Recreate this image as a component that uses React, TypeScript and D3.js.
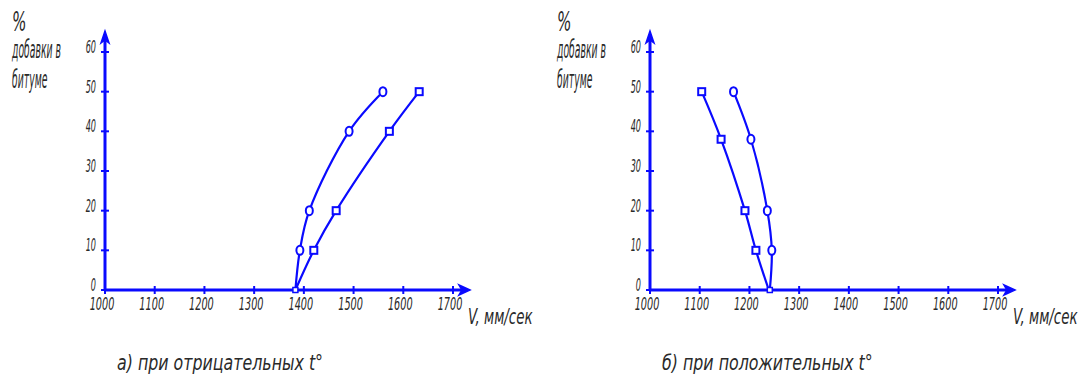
import * as d3 from "d3";

// chart a) при отрицательных t°
const aLevels = [0, 10, 20, 40, 50];
const aCircle = [1383, 1392, 1411, 1491, 1559];
const aSquare = [1383, 1420, 1465, 1572, 1632];

// chart б) при положительных t°
const bLevels = [0, 10, 20, 38, 50];
const bCircle = [1241, 1245, 1236, 1203, 1168];
const bSquare = [1239, 1213, 1191, 1143, 1104];

const xTicks = [1000, 1100, 1200, 1300, 1400, 1500, 1600, 1700];
const yTicks = [0, 10, 20, 30, 40, 50, 60];

const BLUE = "#0a0aff";
const INK = "#2a2a2a";
const FONT = "'DejaVu Sans Condensed', 'DejaVu Sans', sans-serif";

type TProps = { x: number; y: number; text: string; size: number; sx: number; anchor?: string };

function T({ x, y, text, size, sx, anchor = "start" }: TProps) {
  return (
    <text
      transform={`translate(${x},${y}) scale(${sx},1)`}
      fontFamily={FONT}
      fontStyle="italic"
      fontSize={size}
      fill={INK}
      textAnchor={anchor}
    >
      {text}
    </text>
  );
}

type PanelProps = {
  ox: number;
  levels: number[];
  circle: number[];
  square: number[];
  caption: string;
};

function Panel({ ox, levels, circle, square, caption }: PanelProps) {
  const x = d3.scaleLinear().domain([1000, 1700]).range([ox, ox + 348]);
  const y = d3.scaleLinear().domain([0, 60]).range([290, 52]);
  const line = d3
    .line<[number, number]>()
    .x((d) => x(d[0]))
    .y((d) => y(d[1]))
    .curve(d3.curveCatmullRom.alpha(0.5));

  const cPts = circle.map((v, i) => [v, levels[i]] as [number, number]);
  const sPts = square.map((v, i) => [v, levels[i]] as [number, number]);
  const x0 = x(1000);
  const y0 = y(0);

  return (
    <g>
      {/* axes */}
      <line x1={x0} y1={y0} x2={x(1700) + 14} y2={y0} stroke={BLUE} strokeWidth={3} />
      <line x1={x0} y1={y0} x2={x0} y2={36} stroke={BLUE} strokeWidth={3} />
      <path
        d={`M${x(1700) + 17},${y0} L${x(1700) + 6},${y0 - 5} L${x(1700) + 9},${y0} L${x(1700) + 6},${y0 + 5} Z`}
        fill={BLUE}
        stroke={BLUE}
        strokeWidth={1.5}
      />
      <path
        d={`M${x0},${31} L${x0 - 4},${43} L${x0},${40} L${x0 + 4},${43} Z`}
        fill={BLUE}
        stroke={BLUE}
        strokeWidth={1.5}
      />
      {xTicks.map((t) => (
        <g key={t}>
          <line x1={x(t)} x2={x(t)} y1={y0 - 4} y2={y0 + 4} stroke={BLUE} strokeWidth={2} />
          <T x={x(t) - 3} y={y0 + 20} text={String(t)} size={18} sx={0.6} anchor="middle" />
        </g>
      ))}
      {yTicks.map((t) => (
        <g key={t}>
          <line x1={x0 - 4} x2={x0 + 4} y1={y(t)} y2={y(t)} stroke={BLUE} strokeWidth={2} />
          <T x={x0 - 9} y={y(t) + 1} text={String(t)} size={18} sx={0.5} anchor="end" />
        </g>
      ))}

      {/* series */}
      <path d={line(cPts) ?? ""} fill="none" stroke={BLUE} strokeWidth={2.2} />
      <path d={line(sPts) ?? ""} fill="none" stroke={BLUE} strokeWidth={2.2} />
      {cPts.slice(1).map((p, i) => (
        <ellipse key={"c" + i} cx={x(p[0])} cy={y(p[1])} rx={3.5} ry={4.5} fill="white" stroke={BLUE} strokeWidth={2} />
      ))}
      {sPts.slice(1).map((p, i) => (
        <rect key={"s" + i} x={x(p[0]) - 3.5} y={y(p[1]) - 3.5} width={7} height={7} fill="white" stroke={BLUE} strokeWidth={2} />
      ))}
      <rect x={x(circle[0]) - 2.5} y={y0 - 2.5} width={5} height={5} fill="white" stroke={BLUE} strokeWidth={1.5} />

      {/* titles */}
      <T x={ox - 93} y={31} text="%" size={26} sx={0.65} />
      <T x={ox - 93} y={58} text="добавки в" size={24} sx={0.43} />
      <T x={ox - 93} y={88} text="битуме" size={24} sx={0.43} />
      <T x={x(1700) + 15} y={y0 + 34} text="V, мм/сек" size={22} sx={0.68} />
      <T x={ox + 12} y={370} text={caption} size={22} sx={0.8} />
    </g>
  );
}

export default function App() {
  return (
    <svg
      width={1078}
      height={376}
      style={{ position: "absolute", left: 0, top: 0, background: "white" }}
    >
      <Panel ox={105} levels={aLevels} circle={aCircle} square={aSquare} caption="а) при отрицательных t°" />
      <Panel ox={650} levels={bLevels} circle={bCircle} square={bSquare} caption="б) при положительных t°" />
    </svg>
  );
}
